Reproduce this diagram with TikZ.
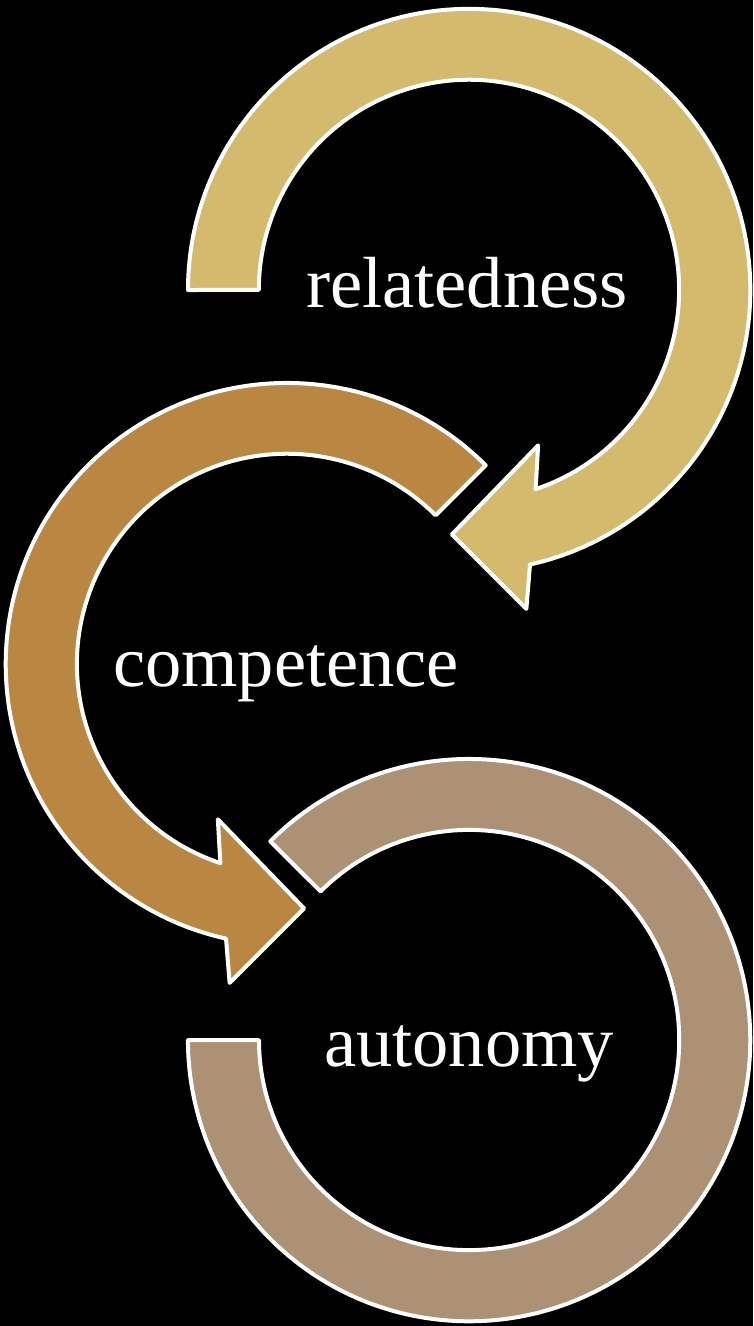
\documentclass[tikz,border=0pt]{standalone}
\usepackage{fontspec}
\setmainfont{Liberation Serif}
\usepackage{xcolor}
\usepackage{tikz}
\usetikzlibrary{positioning}

\definecolor{relgold}{RGB}{212,186,108}
\definecolor{compbrown}{RGB}{186,135,66}
\definecolor{autotan}{RGB}{172,145,117}

\begin{document}
\begin{tikzpicture}[x=0.01cm, y=0.01cm,
        ring/.style={draw=white, line width=0.4mm, line join=round},
        lbl/.style={text=white, font=\fontsize{20.6pt}{24pt}\selectfont, anchor=base, inner sep=0pt}]
        \fill[black] (0,0) rectangle (753,-1326);
        \useasboundingbox (0,0) rectangle (753,-1326);
        \coordinate (A) at (469,-290);
        \coordinate (B) at (287,-664);
        \coordinate (C) at (469,-1040);
        % autonomy ring
        \begin{scope}[shift={(C)}]
            \draw[ring, fill=autotan] (135:281) arc[start angle=135, end angle=-180, radius=2.81cm]
                -- (180:210) arc[start angle=-180, end angle=135, radius=2.10cm] -- cycle;
        \end{scope}
        % competence ring
        \begin{scope}[shift={(B)}]
            \draw[ring, fill=compbrown] (45:281) arc[start angle=45, end angle=257.5, radius=2.81cm]
                -- (259.8:324) -- (274:245) -- (246:170) -- (251.5:210)
                arc[start angle=251.5, end angle=45, radius=2.10cm] -- cycle;
        \end{scope}
        % relatedness ring
        \begin{scope}[shift={(A)}]
            \draw[ring, fill=relgold] (180:281) arc[start angle=180, end angle=-77.5, radius=2.81cm]
                -- (-79.8:324) -- (-94:245) -- (-66:170) -- (-71.5:210)
                arc[start angle=-71.5, end angle=180, radius=2.10cm] -- cycle;
        \end{scope}
        \node[lbl] (rel) at (467,-307) {relatedness};
        \node[lbl] (comp) at (286,-686) {competence};
        \node[lbl] (auto) at (469,-1066) {autonomy};
    \end{tikzpicture}
\end{document}
